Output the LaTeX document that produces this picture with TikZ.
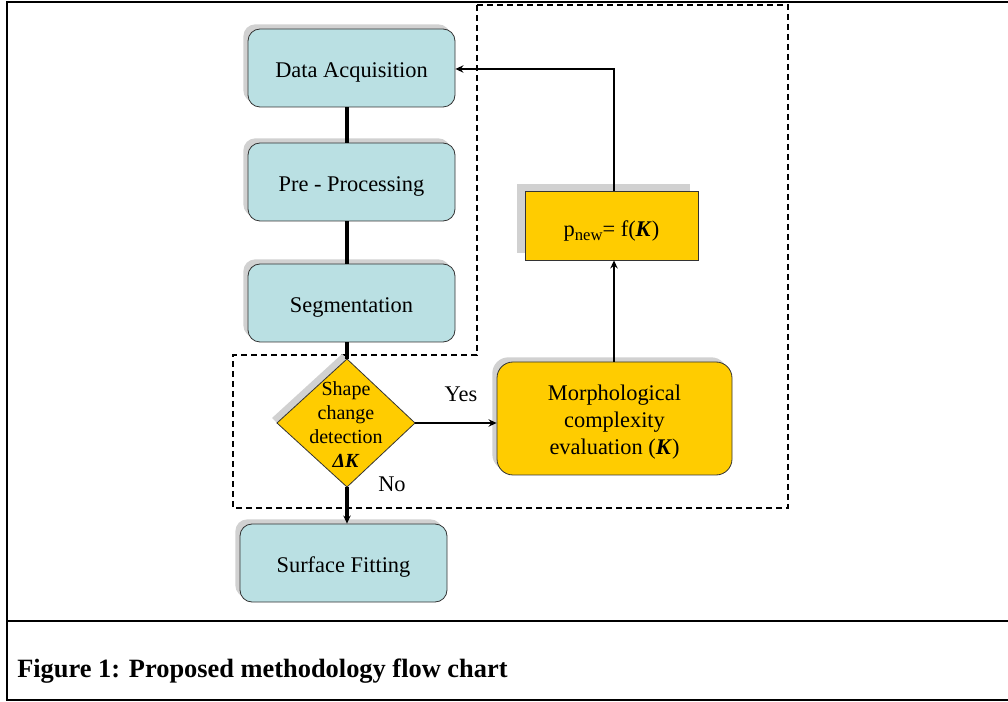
\documentclass[tikz,border=0pt]{standalone}
\usepackage{fontspec}
\setmainfont{Liberation Serif}
\usetikzlibrary{arrows.meta,shadows}
\definecolor{cyanbox}{HTML}{BAE0E3}
\definecolor{goldbox}{HTML}{FFCC00}
\begin{document}
\begin{tikzpicture}[x=0.75pt,y=-0.75pt,
  txt/.style={font=\fontsize{16.8}{20.5}\selectfont},
  shad/.style={general shadow={shadow xshift=-3.5pt,shadow yshift=3.5pt,fill=black!18,draw=none}},
  flowbox/.style={txt,shad,draw=black!80,line width=0.6pt,rounded corners=9pt,fill=cyanbox,
    inner sep=0pt,align=center,minimum width=155.25pt,minimum height=58.5pt,
    text height=14pt,text depth=0pt},
  goldround/.style={shad,draw=black!80,line width=0.6pt,rounded corners=12pt,fill=goldbox,
    inner sep=0pt,minimum width=176.25pt,minimum height=84.75pt},
  goldsq/.style={general shadow={shadow xshift=-6pt,shadow yshift=5pt,fill=black!18,draw=none},
    draw=black!80,line width=0.6pt,fill=goldbox,inner sep=0pt,
    minimum width=129.75pt,minimum height=51.75pt},
  lbl/.style={txt,inner sep=0pt,align=center},
  spineline/.style={line width=2.3pt,black},
  conn/.style={line width=1.9pt,black},
  arr/.style={conn,-{Stealth[length=6pt,width=5.5pt]}},
  dashbox/.style={line width=1.3pt,dash pattern=on 4.5pt off 3pt},
  frame/.style={line width=2pt}]
\useasboundingbox (0,0) rectangle (1008,702);

% outer frame
\draw[frame] (1008,2) -- (7,2) -- (7,700) -- (1008,700);
\draw[frame] (7,621) -- (1008,621);

% dashed region
\draw[dashbox] (477,5) -- (788,5) -- (788,508) -- (233,508) -- (233,355) -- (477,355) -- cycle;

\coordinate (spine) at (347,0);
\coordinate (mx) at (614,0);

% left column boxes
\node[flowbox] (da) at (351.5,68) {Data Acquisition};
\node[flowbox] (pp) at (351.5,182) {Pre - Processing};
\node[flowbox] (sg) at (351.5,303) {Segmentation};
\node[flowbox] (sf) at (343.5,563) {Surface Fitting};

% diamond
\coordinate (dt) at (347,359);
\coordinate (dl) at (277,423);
\coordinate (dr) at (415,423);
\coordinate (db) at (347,487);
\fill[black!18] ([shift={(-5,-5)}]dt) -- ([shift={(-5,-5)}]dl) -- (dl) -- (dt) -- cycle;
\draw[draw=black!80,line width=0.6pt,fill=goldbox] (dt) -- (dr) -- (db) -- (dl) -- cycle;
\node[font=\fontsize{15}{18}\selectfont,align=center,inner sep=0pt] (dm) at (346,425)
  {Shape\\change\\detection\\\textbf{\textit{ΔK}}};

% right column
\node[goldround] (mo) at (614.5,418.5) {};
\node[lbl] (motext) at (614.5,422) {Morphological\\complexity\\evaluation (\textbf{\textit{K}})};
\node[goldsq] (pn) at (611.5,225.5) {};
\node[lbl] (pntext) at (611.5,231) {p\raisebox{-0.35ex}{\fontsize{12.5}{14}\selectfont new}= f(\textbf{\textit{K}})};

% connectors
\draw[spineline] (da.south -| spine) -- (pp.north -| spine);
\draw[spineline] (pp.south -| spine) -- (sg.north -| spine);
\draw[spineline] (sg.south -| spine) -- (dt);
\draw[arr,line width=2.3pt] (db) -- (sf.north -| spine);
\draw[arr] (dr) -- (dr -| mo.west);
\draw[arr] (mo.north -| mx) -- (pn.south -| mx);
\draw[arr] (pn.north -| mx) |- ([yshift=-0.75pt]da.east);

% labels
\node[txt] (yes) at (461,394) {Yes};
\node[txt] (no) at (392,484) {No};

% caption
\node[anchor=base west,inner sep=0pt,font=\fontsize{19.8}{22}\selectfont\bfseries] (cap) at (17,677)
  {Figure 1: Proposed methodology flow chart};
\end{tikzpicture}
\end{document}
